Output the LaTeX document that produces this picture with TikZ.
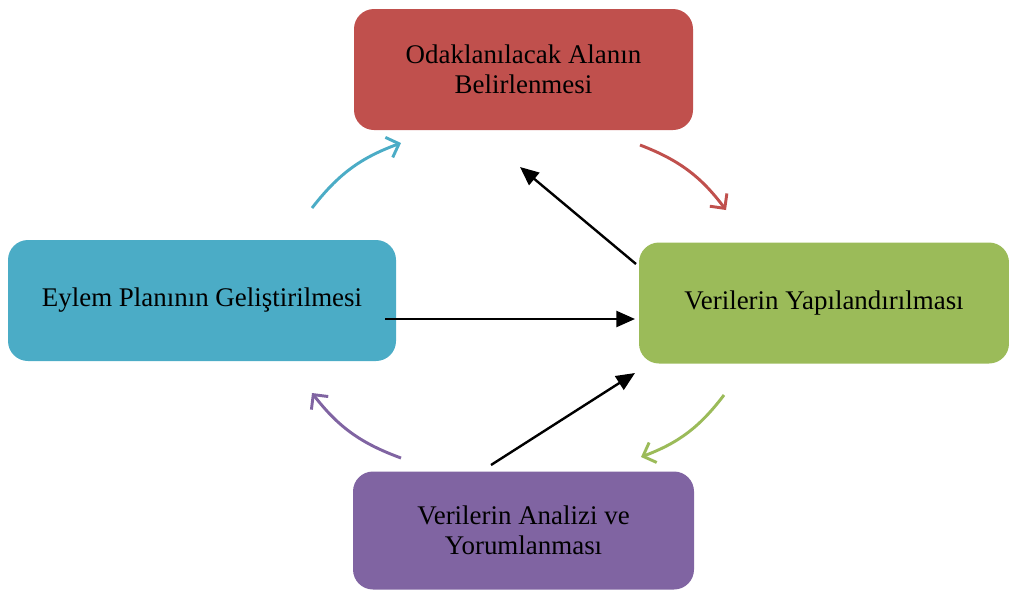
\documentclass[tikz,border=0pt]{standalone}
\usepackage{fontspec}
\setmainfont{Liberation Serif}
\usetikzlibrary{arrows.meta}
\definecolor{cRed}{HTML}{C0504D}
\definecolor{cGreen}{HTML}{9BBB59}
\definecolor{cPurple}{HTML}{8064A2}
\definecolor{cBlue}{HTML}{4BACC6}
\tikzset{
  box/.style={rounded corners=15pt, inner sep=0pt, align=center, text=black,
    font=\fontsize{20.2}{22.5}\selectfont},
  cyc/.style={line width=2.2pt, -{Straight Barb[length=8pt,width=16pt,line width=2.2pt]}, bend left=16},
  blk/.style={line width=1.8pt, -{Stealth[length=14pt,width=12pt,inset=0pt]}}
}
\begin{document}
\begin{tikzpicture}[x=0.75pt,y=-0.75pt]
\useasboundingbox (0,0) rectangle (1009,590);
\node[box, fill=cRed, minimum width=254.25pt, minimum height=90.75pt] (top) at (523.5,69.5) {Odaklanılacak Alanın\\Belirlenmesi};
\node[box, fill=cGreen, minimum width=277.5pt, minimum height=90.75pt] (right) at (824,303) {Verilerin Yapılandırılması};
\node[box, fill=cPurple, minimum width=255.75pt, minimum height=88.5pt] (bot) at (523.5,530.5) {Verilerin Analizi ve\\Yorumlanması};
\node[box, fill=cBlue, minimum width=291pt, minimum height=90.75pt] (left) at (202,300.5) {Eylem Planının Geliştirilmesi};
% cycle arrows
\coordinate (c1s) at (312,208); \coordinate (c1e) at (401,143);
\coordinate (c2s) at (640,145); \coordinate (c2e) at (726,210);
\coordinate (c3s) at (724,395); \coordinate (c3e) at (641,457);
\coordinate (c4s) at (401,458); \coordinate (c4e) at (312,393);
\draw[cyc, cBlue] (c1s) to (c1e);
\draw[cyc, cRed] (c2s) to (c2e);
\draw[cyc, cGreen] (c3s) to (c3e);
\draw[cyc, cPurple] (c4s) to (c4e);
% black arrows
\coordinate (b1s) at (385,319); \coordinate (b1e) at (635,319);
\coordinate (b2s) at (636,264); \coordinate (b2e) at (520,167);
\coordinate (b3s) at (491,465); \coordinate (b3e) at (635,373);
\draw[blk] (b1s) -- (b1e);
\draw[blk] (b2s) -- (b2e);
\draw[blk] (b3s) -- (b3e);
\end{tikzpicture}
\end{document}
